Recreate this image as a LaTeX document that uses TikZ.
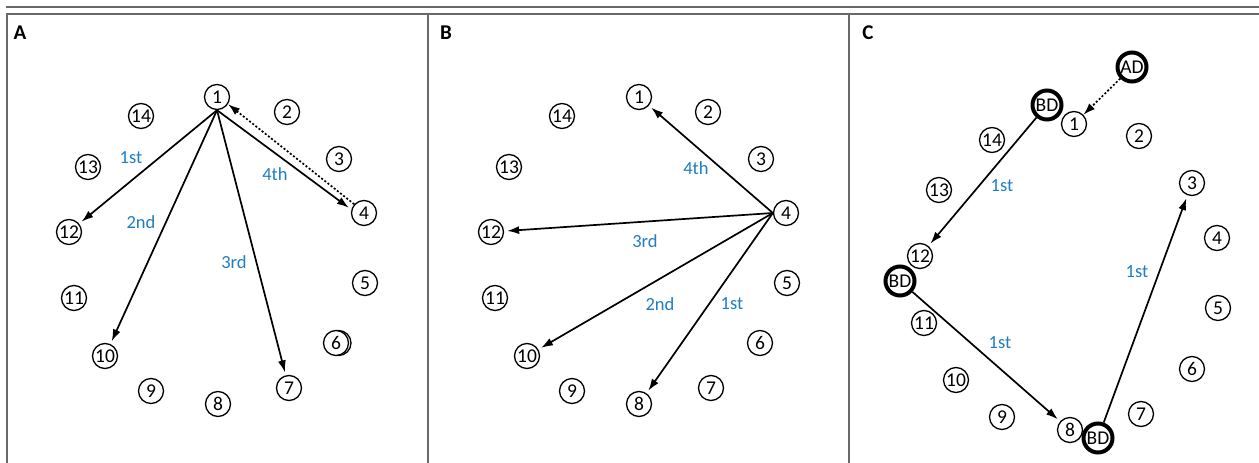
\documentclass[tikz,border=0pt]{standalone}
\usepackage{fontspec}
\setmainfont{Carlito}
\usetikzlibrary{arrows.meta}
\definecolor{lblue}{RGB}{30,125,195}
\definecolor{framegray}{RGB}{105,105,105}
\begin{document}
\begin{tikzpicture}[x=1pt,y=-1pt,
 num/.style={circle,draw,fill=white,line width=1.3pt,minimum size=25pt,inner sep=0pt,font=\fontsize{19.5}{19.5}\selectfont},
 bd/.style={num,line width=4pt,minimum size=29pt},
 lab/.style={text=lblue,font=\fontsize{18.5}{18.5}\selectfont,inner sep=0pt},
 plet/.style={font=\fontsize{21}{21}\selectfont\bfseries,inner sep=0pt},
 arr/.style={-{Latex[length=12pt,width=8pt]},line width=1.7pt,shorten >=3pt},
 dotarr/.style={-{Latex[length=12pt,width=8pt]},line width=1.7pt,dash pattern=on 2pt off 2pt},
 panelline/.style={framegray,line width=2pt}]
\useasboundingbox (0,0) rectangle (1259,463);
% frame
\draw[panelline] (6,7) -- (1259,7);
\draw[panelline] (7,463) -- (7,14) -- (1259,14);
\draw[panelline] (428,14) -- (428,463);
\draw[panelline] (849,14) -- (849,463);
% panel letters
\node[plet] (pA) at (20,33) {A};
\node[plet] (pB) at (446,33) {B};
\node[plet] (pC) at (868,33) {C};
% ---------- Panel A ----------
\draw[line width=1.3pt] (338.5,343) circle (12.5pt);
\foreach \n/\x/\y in {1/217/97, 2/287/112, 3/339/159, 4/364/213, 5/365/283,
  6/336/343, 7/289/388, 8/218/404, 9/151/391, 10/105/356, 11/74/298,
  12/69/232, 13/88/167, 14/141/116}
  \node[num] (a\n) at (\x,\y) {\n};
\draw[arr] (a1.south) -- (a12);
\draw[arr] (a1.south) -- (a10);
\draw[arr] (a1.south) -- (a7);
\draw[arr] (a1.south) -- (a4.165);
\draw[dotarr] (a4.138) -- (a1.-33);
\node[lab] (la1) at (131,158) {1st};
\node[lab] (la2) at (141,222) {2nd};
\node[lab] (la3) at (234,262) {3rd};
\node[lab] (la4) at (275,174) {4th};
% ---------- Panel B ----------
\foreach \n/\x/\y in {1/639/97, 2/708/112, 3/761/159, 4/786/213, 5/787/283,
  6/760/343, 7/711/388, 8/639/404, 9/572/391, 10/527/356, 11/495/298,
  12/491/232, 13/509/167, 14/562/116}
  \node[num] (b\n) at (\x,\y) {\n};
\draw[arr] (b4.west) -- (b1);
\draw[arr] (b4.west) -- (b12);
\draw[arr] (b4.west) -- (b10);
\draw[arr] (b4.west) -- (b8);
\node[lab] (lb4) at (696,168) {4th};
\node[lab] (lb3) at (645,241) {3rd};
\node[lab] (lb2) at (660,304) {2nd};
\node[lab] (lb1) at (732,304) {1st};
% ---------- Panel C ----------
\foreach \n/\x/\y in {1/1074/124, 2/1139/136, 3/1192/183, 4/1217/238, 5/1218/308,
  6/1192/369, 7/1141/414, 8/1070/430, 9/1002/417, 10/956/380, 11/924/323,
  12/920/256, 13/939/190, 14/992/140}
  \node[num] (c\n) at (\x,\y) {\n};
\node[bd] (ad) at (1132,67) {AD};
\node[bd] (bdt) at (1047,105) {BD};
\node[bd] (bdl) at (900,281) {BD};
\node[bd] (bdb) at (1098,438) {BD};
\draw[arr] (bdt) -- (c12);
\draw[arr] (bdl) -- (c8);
\draw[arr] (bdb) -- (c3);
\draw[dotarr] (ad) -- (c1);
\node[lab] (lc1) at (1002,186) {1st};
\node[lab] (lc2) at (1137,272) {1st};
\node[lab] (lc3) at (1000,343) {1st};
\end{tikzpicture}
\end{document}
